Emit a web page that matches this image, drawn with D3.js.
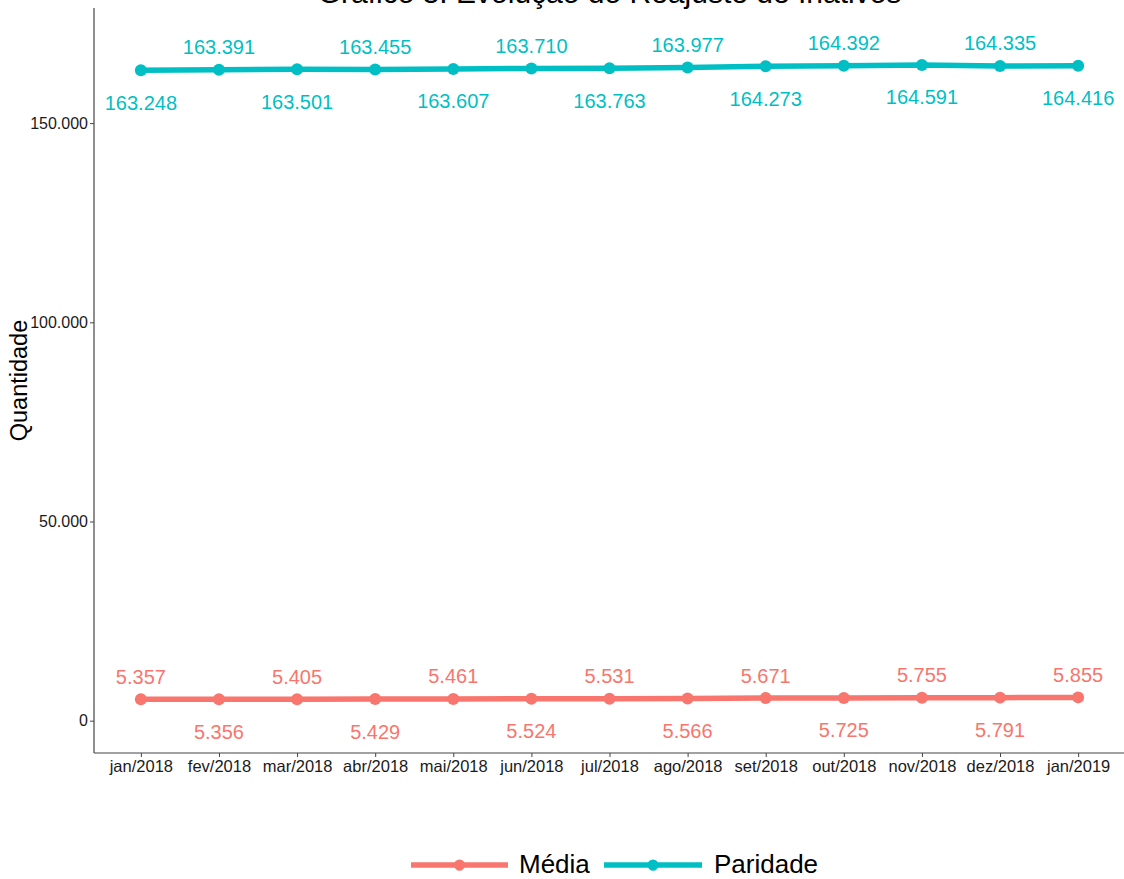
<!DOCTYPE html>
<html>
<head>
<meta charset="utf-8">
<script src="https://cdn.jsdelivr.net/npm/d3@7"></script>
<style>
  body { margin: 0; background: #fff; }
  svg { display: block; font-family: "Liberation Sans", Arial, sans-serif; }
</style>
</head>
<body>
<svg id="chart" width="1124" height="879"></svg>
<script>
const months = ["jan/2018","fev/2018","mar/2018","abr/2018","mai/2018","jun/2018","jul/2018","ago/2018","set/2018","out/2018","nov/2018","dez/2018","jan/2019"];
const media = [5357, 5356, 5405, 5429, 5461, 5524, 5531, 5566, 5671, 5725, 5755, 5791, 5855];
const paridade = [163248, 163391, 163501, 163455, 163607, 163710, 163763, 163977, 164273, 164392, 164591, 164335, 164416];
const yTicks = [0, 50000, 100000, 150000];
const seriesNames = ["Média", "Paridade"];
const seriesColors = ["#F8766D", "#00BFC4"];

(function () {
const fmt = v => d3.format(",")(v).replace(/,/g, ".");
const svg = d3.select("#chart");

const pL = 94, pR = 1125, pT = 8, pB = 753;
const x = d3.scalePoint().domain(months).range([pL, pR]).padding(0.6);
const y = d3.scaleLinear().domain([-8107, 178890]).range([pB, pT]);

// Title (partially cut at top, as in the reference)
svg.append("text").attr("x", (pL + pR) / 2).attr("y", 3)
  .attr("text-anchor", "middle").attr("font-size", 30).attr("fill", "#000")
  .text("Gráfico 5: Evolução do Reajuste de Inativos");

// Axes
const yAxis = d3.axisLeft(y).tickValues(yTicks).tickFormat(fmt).tickSize(4).tickPadding(2);
const gy = svg.append("g").attr("transform", `translate(${pL},0)`).call(yAxis);
gy.select(".domain").attr("d", `M0,${pT}V${pB}`).attr("stroke", "#444").attr("stroke-width", 1.2);
gy.selectAll(".tick line").attr("stroke", "#444");
gy.selectAll(".tick text").attr("font-size", 16).attr("fill", "#1a1a1a").attr("font-family", "Liberation Sans, Arial, sans-serif");

const xAxis = d3.axisBottom(x).tickSize(4).tickPadding(3);
const gx = svg.append("g").attr("transform", `translate(0,${pB})`).call(xAxis);
gx.select(".domain").attr("d", `M${pL},0H${pR}`).attr("stroke", "#444").attr("stroke-width", 1.2);
gx.selectAll(".tick line").attr("stroke", "#444");
gx.selectAll(".tick text").attr("font-size", 16.5).attr("fill", "#1a1a1a").attr("font-family", "Liberation Sans, Arial, sans-serif");

// Y axis title
svg.append("text").attr("transform", `translate(27,${(pT + pB) / 2}) rotate(-90)`)
  .attr("text-anchor", "middle").attr("font-size", 23.5).attr("fill", "#000")
  .text("Quantidade");

// Series
const seriesData = [media, paridade];
const line = d3.line().x((d, i) => x(months[i])).y(d => y(d));

seriesData.forEach((vals, s) => {
  const col = seriesColors[s];
  const g = svg.append("g");
  g.append("path").datum(vals).attr("d", line).attr("fill", "none")
    .attr("stroke", col).attr("stroke-width", 5.5);
  g.selectAll("circle").data(vals).join("circle")
    .attr("cx", (d, i) => x(months[i])).attr("cy", d => y(d)).attr("r", 6).attr("fill", col);
  g.selectAll("text").data(vals).join("text")
    .attr("x", (d, i) => x(months[i]))
    .attr("y", (d, i) => {
      const above = s === 0 ? i % 2 === 0 : i % 2 === 1;
      return above ? y(d) - 15.5 : y(d) + 39.5;
    })
    .attr("text-anchor", "middle").attr("font-size", 20).attr("fill", col)
    .text(d => fmt(d));
});

// Legend
const legendItems = [
  { name: seriesNames[0], color: seriesColors[0], x1: 411, x2: 508, tx: 519 },
  { name: seriesNames[1], color: seriesColors[1], x1: 604, x2: 702, tx: 714 }
];
const ly = 865;
legendItems.forEach(it => {
  const g = svg.append("g");
  g.append("line").attr("x1", it.x1).attr("x2", it.x2).attr("y1", ly).attr("y2", ly)
    .attr("stroke", it.color).attr("stroke-width", 5.5);
  g.append("circle").attr("cx", (it.x1 + it.x2) / 2).attr("cy", ly).attr("r", 5.5).attr("fill", it.color);
  g.append("text").attr("x", (it.x1 + it.x2) / 2).attr("y", ly + 6).attr("text-anchor", "middle")
    .attr("font-size", 9).attr("fill", it.color).attr("opacity", 0.6).text("a");
  g.append("text").attr("x", it.tx).attr("y", ly + 8).attr("font-size", 26).attr("fill", "#000").text(it.name);
});
})();
</script>
</body>
</html>
